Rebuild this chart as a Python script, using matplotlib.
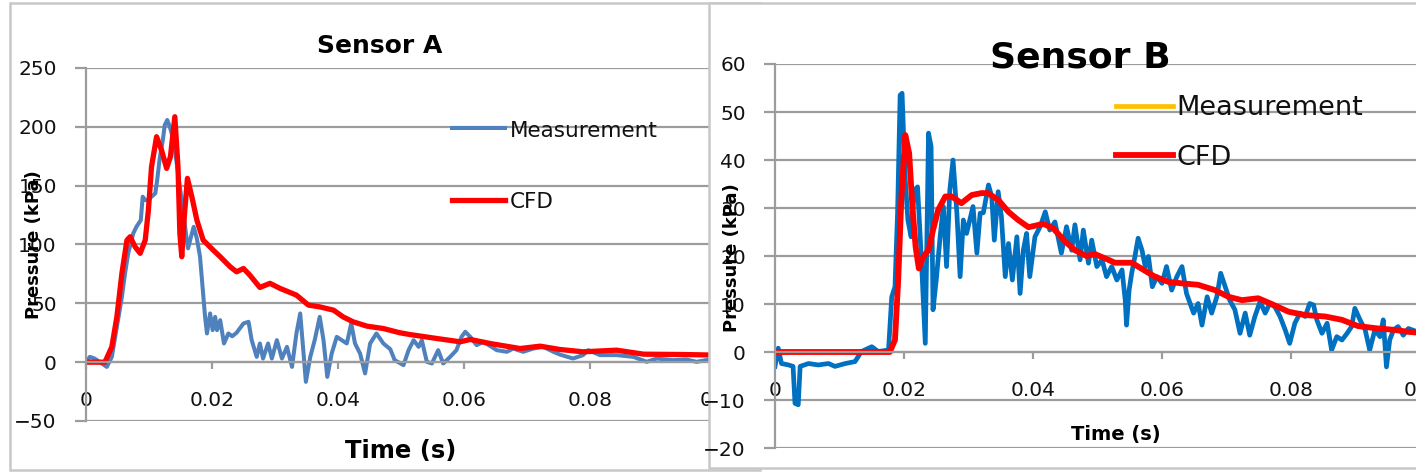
import matplotlib
matplotlib.use("Agg")
import matplotlib.pyplot as plt
from matplotlib.lines import Line2D
from matplotlib.patches import Rectangle

# ---------------- data ----------------
# Sensor A
a_cfd_t = [0, 0.003, 0.0041, 0.0049, 0.0057, 0.0065, 0.0070, 0.0078, 0.0086, 0.0094,
           0.0099, 0.0104, 0.0112, 0.0120, 0.0128, 0.0134, 0.0141, 0.0146, 0.0149, 0.0152,
           0.0156, 0.0161, 0.0168, 0.0176, 0.0186, 0.0202, 0.0213, 0.0229, 0.0239, 0.0250,
           0.0260, 0.0276, 0.0292, 0.0308, 0.0334, 0.0353, 0.0371, 0.0393, 0.0408, 0.0424,
           0.0446, 0.0472, 0.0498, 0.0514, 0.0557, 0.0594, 0.0610, 0.0641, 0.0689, 0.0721,
           0.0752, 0.0789, 0.0842, 0.0885, 0.0948, 0.1]
a_cfd_p = [0, 0, 13, 38.5, 75.6, 103.7, 106.6, 98, 92.5, 103.7,
           129, 166, 191.6, 180, 164.7, 174.6, 208.6, 166, 109.4, 89.6,
           123.6, 156.2, 140.6, 120.7, 103.7, 95.2, 89.6, 81, 76.8, 79.6,
           74, 63.5, 67, 62.7, 57, 48.5, 47, 44.2, 38.5, 34.3,
           30.6, 28.6, 25, 23.5, 20.1, 17.3, 19.3, 15.9, 11.6, 13.6,
           10.8, 8.8, 10.2, 6.8, 6.5, 6]

a_meas_t = [0, 0.0006, 0.0014, 0.0022, 0.0033, 0.0041, 0.0049, 0.0057, 0.0062, 0.0067,
            0.0075, 0.0080, 0.0087, 0.0090, 0.0094, 0.0099, 0.0104, 0.0110, 0.0113, 0.0117,
            0.0122, 0.0125, 0.0129, 0.0133, 0.0139, 0.0144, 0.0149, 0.0154, 0.0160, 0.0162,
            0.0168, 0.0171, 0.0176, 0.0181, 0.0185, 0.0189, 0.0192, 0.0197, 0.0201, 0.0205,
            0.0208, 0.0213, 0.0219, 0.0226, 0.0232, 0.0239, 0.0250, 0.0258, 0.0263, 0.0271,
            0.0276, 0.0281, 0.0289, 0.0295, 0.0303, 0.0311, 0.0319, 0.0327, 0.0334, 0.0340,
            0.0344, 0.0349, 0.0356, 0.0363, 0.0371, 0.0377, 0.0383, 0.0390, 0.0398, 0.0406,
            0.0414, 0.0421, 0.0427, 0.0435, 0.0443, 0.0451, 0.0461, 0.0472, 0.0483, 0.0490,
            0.0504, 0.0512, 0.0520, 0.0528, 0.0533, 0.0541, 0.0549, 0.0559, 0.0567, 0.0578,
            0.0588, 0.0596, 0.0602, 0.0610, 0.0620, 0.0631, 0.0652, 0.0668, 0.0678, 0.0694,
            0.0710, 0.0726, 0.0742, 0.0752, 0.0773, 0.0789, 0.0797, 0.0816, 0.0842, 0.0869,
            0.0890, 0.0906, 0.0932, 0.0953, 0.0969, 0.0984, 0.1]
a_meas_p = [0, 4.5, 3, 0, -4, 4.5, 30, 55.5, 75.6, 92.5,
            109.4, 115, 120.7, 140.6, 137.7, 137.7, 140.6, 143.5, 154.8, 173.2,
            188.8, 201.5, 205.8, 200, 188.8, 169, 149, 129.2, 103.7, 96.7,
            109.4, 115, 105, 89.6, 64, 38.5, 24.4, 41.4, 27.2, 38.5,
            27.2, 35.7, 15.9, 24.4, 22, 25, 32.9, 34.3, 18.7, 4.5,
            15.9, 3.1, 15.9, 3.1, 18.7, 3.1, 13, -4, 24.4, 41.4,
            15.9, -16.7, 4.5, 18.7, 38.5, 18.7, -12.5, 7.4, 21.5, 18.7,
            15.9, 32.9, 15.9, 7.4, -9.6, 15.9, 24.4, 15.9, 11, 1.7,
            -2.5, 10.2, 18.7, 13, 18.7, 0.3, -1.1, 10.2, -1.1, 4.5,
            10.2, 21.5, 25.8, 21.5, 14.5, 17.3, 10.2, 8.8, 11.6, 8.8,
            11.6, 13, 8.8, 6.5, 3.1, 6, 10.2, 6, 6, 4.5,
            0.3, 3.1, 1.7, 2.3, 0.3, 1.7, 2]

# Sensor B
b_cfd_t = [0, 0.0178, 0.0186, 0.0191, 0.0196, 0.0202, 0.0208, 0.0213, 0.0218, 0.0223,
           0.0230, 0.0238, 0.0245, 0.0253, 0.0264, 0.0274, 0.0289, 0.0305, 0.0320, 0.0330,
           0.0346, 0.0362, 0.0377, 0.0393, 0.0416, 0.0431, 0.0450, 0.0465, 0.0483, 0.0496,
           0.0517, 0.0527, 0.0553, 0.0574, 0.0589, 0.0610, 0.0631, 0.0656, 0.0682, 0.0703,
           0.0724, 0.0749, 0.0770, 0.0796, 0.0822, 0.0853, 0.0879, 0.0904, 0.0935, 0.0961,
           0.0982, 0.1]
b_cfd_p = [0, 0, 2.5, 15, 32.4, 45.2, 41.4, 30.3, 21.9, 17.4,
           19.9, 21.2, 25.4, 29.6, 32.4, 32.4, 31, 32.7, 33.1, 33.1,
           31.7, 29.2, 27.5, 26, 26.7, 25.8, 23, 21.2, 20, 20.4,
           19.2, 18.6, 18.6, 16.9, 15.7, 14.6, 14.3, 14, 12.9, 11.5,
           10.8, 11.2, 10, 8.4, 7.7, 7.4, 6.7, 5.4, 4.9, 4.6,
           4.2, 4]

b_meas_t = [0, 0.0005, 0.0010, 0.0021, 0.0028, 0.0031, 0.0036, 0.0039, 0.0052, 0.0067,
            0.0083, 0.0093, 0.0109, 0.0124, 0.0134, 0.0150, 0.0160, 0.0176, 0.0181, 0.0186,
            0.0190, 0.0194, 0.0197, 0.0202, 0.0206, 0.0211, 0.0216, 0.0221, 0.0227, 0.0233,
            0.0238, 0.0242, 0.0245, 0.0250, 0.0256, 0.0261, 0.0266, 0.0271, 0.0276, 0.0282,
            0.0287, 0.0292, 0.0297, 0.0302, 0.0307, 0.0313, 0.0318, 0.0323, 0.0331, 0.0336,
            0.0340, 0.0346, 0.0351, 0.0357, 0.0362, 0.0368, 0.0375, 0.0380, 0.0385, 0.0390,
            0.0395, 0.0403, 0.0411, 0.0419, 0.0426, 0.0434, 0.0444, 0.0452, 0.0460, 0.0465,
            0.0473, 0.0478, 0.0486, 0.0491, 0.0499, 0.0507, 0.0514, 0.0522, 0.0530, 0.0538,
            0.0543, 0.0545, 0.0549, 0.0553, 0.0558, 0.0563, 0.0569, 0.0574, 0.0579, 0.0585,
            0.0592, 0.0600, 0.0607, 0.0615, 0.0623, 0.0631, 0.0638, 0.0649, 0.0656, 0.0662,
            0.0670, 0.0677, 0.0685, 0.0691, 0.0698, 0.0705, 0.0713, 0.0721, 0.0729, 0.0736,
            0.0744, 0.0752, 0.0760, 0.0767, 0.0775, 0.0783, 0.0791, 0.0798, 0.0806, 0.0814,
            0.0822, 0.0829, 0.0835, 0.0840, 0.0848, 0.0856, 0.0863, 0.0871, 0.0879, 0.0887,
            0.0894, 0.0899, 0.0907, 0.0915, 0.0922, 0.0930, 0.0938, 0.0943, 0.0948, 0.0953,
            0.0959, 0.0966, 0.0974, 0.0982, 0.1]
b_meas_p = [-3, 0.8, -2.4, -2.7, -3, -10.7, -11, -3, -2.4, -2.7,
            -2.4, -3, -2.4, -2, 0.1, 1.1, 0.1, 0.4, 11.5, 13.6,
            28.9, 53.5, 53.9, 35.8, 27.5, 24, 33.7, 34.4, 19.2, 1.8,
            45.6, 42.8, 8.8, 15, 24, 30.3, 17.8, 33.7, 40, 28.9,
            15.7, 27.5, 24.7, 27.5, 30.3, 20.6, 28.9, 29, 34.8, 32.4,
            23.3, 33.4, 28.2, 15.7, 22.6, 15, 24, 12.2, 21.2, 24.7,
            15.7, 24, 26.1, 29.2, 25.4, 27.1, 20.6, 26.1, 21.2, 26.5,
            19.2, 25.4, 18.5, 23.3, 17.8, 19.2, 15.7, 17.8, 15, 17.1,
            10.8, 5.6, 12.9, 16.4, 19.9, 23.7, 21.2, 17.8, 19.9, 13.6,
            15.7, 14.3, 17.8, 12.9, 15.7, 17.8, 12.2, 8.1, 10.1, 5.6,
            11.5, 8.1, 11.5, 16.4, 13.6, 10.8, 8.8, 3.9, 8.1, 3.5,
            7.4, 10.5, 8.1, 10.1, 9.4, 7.4, 4.6, 1.8, 6, 8.1,
            7.4, 10.1, 9.8, 6.7, 3.9, 6, 0.4, 3.2, 2.5, 3.9,
            5.3, 9.1, 6.7, 4.6, 0.4, 4.6, 3.2, 6.7, -3.1, 2.5,
            4.6, 5.3, 3.5, 4.9, 4]

time_ticks = [0, 0.02, 0.04, 0.06, 0.08, 0.1]
time_labels = ["0", "0.02", "0.04", "0.06", "0.08", "0.1"]
a_pressure_ticks = [-50, 0, 50, 100, 150, 200, 250]
b_pressure_ticks = [-20, -10, 0, 10, 20, 30, 40, 50, 60]

# ---------------- figure ----------------
W, H = 1416, 472
plt.rcParams["font.family"] = ["DejaVu Sans"]
fig = plt.figure(figsize=(W / 100, H / 100), dpi=100)
fig.patch.set_facecolor("white")

GRID = "#9c9c9c"
FRAME = "#c8c8c8"
BLUE_A = "#4f81bd"
BLUE_B = "#0070c0"
RED = "#ff0000"
GOLD = "#ffc000"


def fx(x):
    return x / W


def fy(y):
    return 1 - y / H


def box(x0, y_top, x1, y_bot):
    return [fx(x0), fy(y_bot), (x1 - x0) / W, (y_bot - y_top) / H]


def style(ax, yticks, ylim):
    ax.set_facecolor("none")
    ax.set_xlim(0, 0.1)
    ax.set_ylim(*ylim)
    for s in ("top", "right"):
        ax.spines[s].set_visible(False)
    ax.spines["bottom"].set_position(("data", 0))
    for s in ("bottom", "left"):
        ax.spines[s].set_color(GRID)
        ax.spines[s].set_linewidth(1.6)
    ax.set_yticks(yticks)
    ax.set_xticks(time_ticks)
    ax.set_xticklabels(time_labels)
    ax.yaxis.grid(True, color=GRID, lw=1.6)
    ax.set_axisbelow(True)
    ax.tick_params(axis="y", length=8, width=1.6, color=GRID, pad=13,
                   labelsize=14.5, labelcolor="#111111")
    ax.tick_params(axis="x", length=5, width=1.6, color=GRID, pad=16,
                   labelsize=14.5, labelcolor="#111111")


# ---- Sensor A panel ----
fig.add_artist(Rectangle((fx(10), fy(470)), fx(760) - fx(10), fy(3) - fy(470),
                         transform=fig.transFigure, facecolor="none",
                         edgecolor=FRAME, lw=1.8, zorder=-1))

ax1 = fig.add_axes(box(86, 68, 716, 421), zorder=0)
style(ax1, a_pressure_ticks, (-50, 250))
ax1.plot(a_meas_t, a_meas_p, color=BLUE_A, lw=2.9, solid_joinstyle="round")
ax1.plot(a_cfd_t, a_cfd_p, color=RED, lw=3.8, solid_joinstyle="round")
ax1.set_xlabel("Time (s)", fontsize=17.5, fontweight="bold", va="baseline")
ax1.xaxis.set_label_coords(0.5, (421 - 458) / 353)
ax1.set_ylabel("Pressure (kPa)", fontsize=13, fontweight="bold", va="center")
ax1.yaxis.set_label_coords((34 - 86) / 630, (421 - 245) / 353)

fig.text(fx(380), fy(53), "Sensor A", fontsize=18, fontweight="bold",
         ha="center", va="baseline", zorder=0.5)
fig.add_artist(Line2D([fx(452), fx(505)], [fy(128), fy(128)], color=BLUE_A, lw=2.9,
                      transform=fig.transFigure, zorder=0.5))
fig.text(fx(510), fy(137), "Measurement", fontsize=15.5, ha="left", va="baseline",
         color="#111111", zorder=0.5)
fig.add_artist(Line2D([fx(452), fx(505)], [fy(200), fy(200)], color=RED, lw=3.8,
                      transform=fig.transFigure, zorder=0.5))
fig.text(fx(510), fy(208), "CFD", fontsize=15.5, ha="left", va="baseline",
         color="#111111", zorder=0.5)

# ---- Sensor B panel (opaque card drawn over the edge of panel A) ----
fig.add_artist(Rectangle((fx(709), fy(468)), fx(1430) - fx(709), fy(3) - fy(468),
                         transform=fig.transFigure, facecolor="white",
                         edgecolor=FRAME, lw=1.8, zorder=1))

ax2 = fig.add_axes(box(775, 64, 1420, 448), zorder=2)
style(ax2, b_pressure_ticks, (-20, 60))
ax2.plot(b_meas_t, b_meas_p, color=BLUE_B, lw=3.4, solid_joinstyle="round")
ax2.plot(b_cfd_t, b_cfd_p, color=RED, lw=4.2, solid_joinstyle="round")
ax2.set_xlabel("Time (s)", fontsize=14, fontweight="bold", va="baseline")
ax2.xaxis.set_label_coords((1116 - 775) / 645, (448 - 440) / 384)
ax2.set_ylabel("Pressure (kPa)", fontsize=13, fontweight="bold", va="center")
ax2.yaxis.set_label_coords((732 - 775) / 645, (448 - 258) / 384)

fig.text(fx(1080), fy(68), "Sensor B", fontsize=26, fontweight="bold",
         ha="center", va="baseline", zorder=3)
fig.add_artist(Line2D([fx(1116), fx(1173)], [fy(106), fy(106)], color=GOLD, lw=3.4,
                      transform=fig.transFigure, zorder=3))
fig.text(fx(1176), fy(115), "Measurement", fontsize=19.5, ha="left", va="baseline",
         color="#111111", zorder=3)
fig.add_artist(Line2D([fx(1116), fx(1173)], [fy(155), fy(155)], color=RED, lw=4.2,
                      transform=fig.transFigure, zorder=3))
fig.text(fx(1176), fy(165), "CFD", fontsize=19.5, ha="left", va="baseline",
         color="#111111", zorder=3)

fig.savefig("out.png", dpi=100, facecolor="white")
